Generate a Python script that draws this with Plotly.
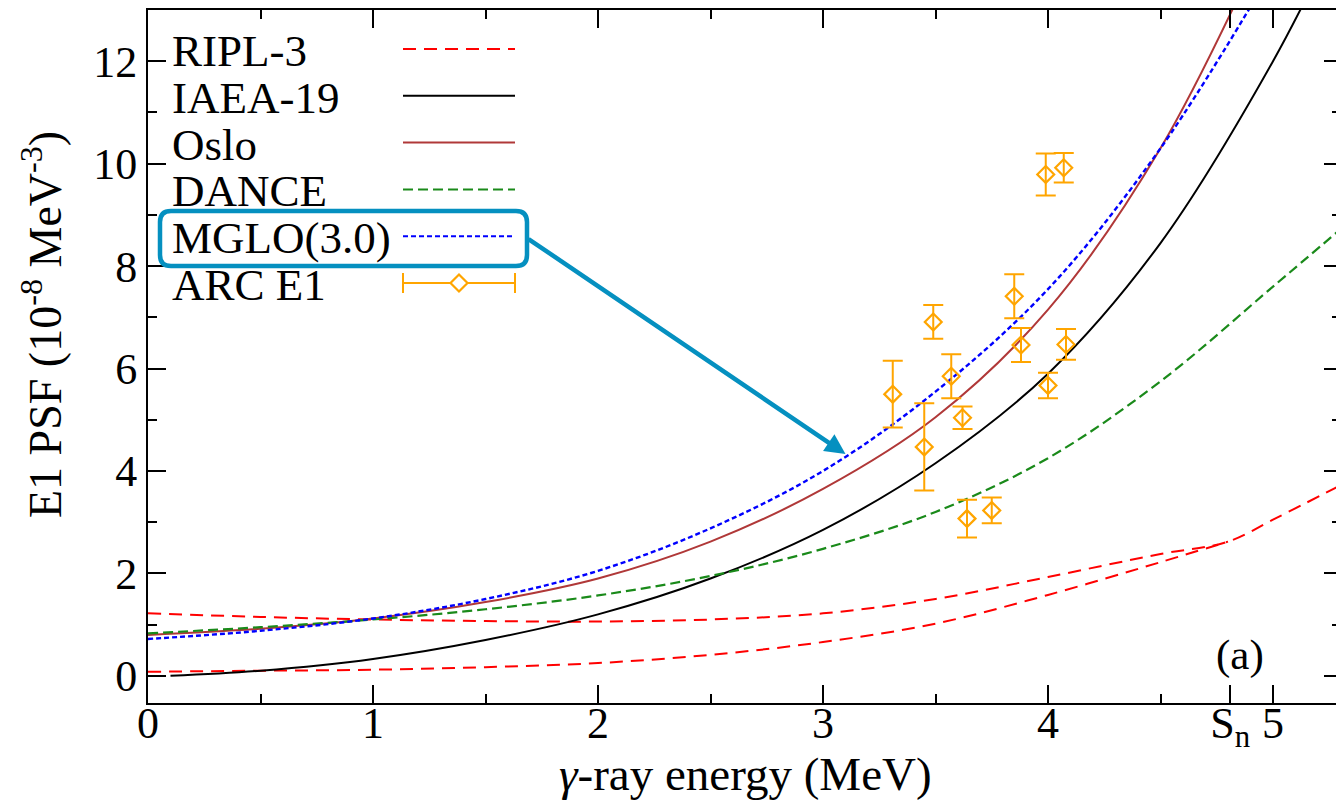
import plotly.graph_objects as go

# ---------------- data ----------------
# RIPL-3 (two branches that join near Sn)
ripl_hi_e = [0.0, 0.5, 1.0, 1.5, 2.0, 2.5, 3.0, 3.5, 4.0, 4.5, 4.8, 5.0, 5.3]
ripl_hi = [1.22, 1.15, 1.10, 1.07, 1.06, 1.10, 1.22, 1.50, 1.93, 2.38, 2.62, 3.05, 3.72]
ripl_lo_e = [0.0, 0.5, 1.0, 1.5, 2.0, 2.5, 3.0, 3.5, 4.0, 4.5, 4.8]
ripl_lo = [0.08, 0.10, 0.12, 0.17, 0.25, 0.41, 0.66, 1.02, 1.58, 2.22, 2.62]

# IAEA-19
iaea_e = [0.1, 0.5, 1.0, 1.5, 2.0, 2.5, 3.0, 3.5, 4.0, 4.5, 5.0, 5.3]
iaea = [0.0, 0.10, 0.33, 0.70, 1.20, 1.90, 2.85, 4.15, 5.90, 8.45, 12.0, 14.6]

# Oslo
oslo_e = [0.0, 0.5, 1.0, 1.5, 2.0, 2.5, 3.0, 3.5, 4.0, 4.5, 5.0]
oslo = [0.80, 0.92, 1.12, 1.44, 1.90, 2.62, 3.65, 5.05, 7.15, 10.3, 14.7]

# DANCE
dance_e = [0.0, 0.5, 1.0, 1.5, 2.0, 2.5, 3.0, 3.5, 4.0, 4.5, 5.0, 5.3]
dance = [0.83, 0.95, 1.10, 1.30, 1.57, 1.95, 2.48, 3.20, 4.25, 5.75, 7.60, 8.72]

# MGLO(3.0)
mglo_e = [0.0, 0.5, 1.0, 1.5, 2.0, 2.5, 3.0, 3.5, 4.0, 4.5, 5.0]
mglo = [0.72, 0.88, 1.12, 1.50, 2.05, 2.88, 4.00, 5.55, 7.55, 10.3, 13.8]

# ARC E1 data points
arc_e = [3.31, 3.45, 3.49, 3.57, 3.62, 3.64, 3.75, 3.85, 3.88, 3.99, 4.00, 4.07, 4.08]
arc_psf = [5.50, 4.47, 6.91, 5.85, 5.04, 3.07, 3.23, 7.41, 6.46, 9.79, 5.67, 9.92, 6.47]
arc_err = [0.65, 0.85, 0.33, 0.43, 0.22, 0.37, 0.25, 0.43, 0.33, 0.41, 0.25, 0.29, 0.30]

# axis ticks
x_major = [0, 1, 2, 3, 4, 4.81, 5]
x_major_text = ["0", "1", "2", "3", "4", "S<sub>n</sub>", "5"]
x_minor = [0.5, 1.5, 2.5, 3.5, 4.5]
y_major = [0, 2, 4, 6, 8, 10, 12]
y_minor = [1, 3, 5, 7, 9, 11]

# ---------------- styling ----------------
W, H = 1336, 802
ML, MR, MT, MB = 148, 0, 10, 99
PW, PH = W - ML - MR, H - MT - MB
X_RANGE = [0, 5.28]
Y_RANGE = [-0.53, 13.0]

SERIF = "Liberation Serif, Times New Roman, serif"
RED = "#ff0000"
BLACK = "#000000"
BROWN = "#b03838"
GREEN = "#1a8a1a"
BLUE = "#0000ff"
ORANGE = "#ffa500"
TEAL = "#0590c0"

DASH_RED = "13px,8px"
DASH_GREEN = "10px,5px"
DASH_BLUE = "5px,3px"


def px_x(p):
    return (p - ML) / PW


def px_y(p):
    return (H - MB - p) / PH


fig = go.Figure()

curve_specs = [
    (ripl_hi_e, ripl_hi, RED, DASH_RED, 2),
    (ripl_lo_e, ripl_lo, RED, DASH_RED, 2),
    (iaea_e, iaea, BLACK, "solid", 2),
    (oslo_e, oslo, BROWN, "solid", 2),
    (dance_e, dance, GREEN, DASH_GREEN, 2.2),
    (mglo_e, mglo, BLUE, DASH_BLUE, 2.4),
]
for xs, ys, color, dash, width in curve_specs:
    fig.add_trace(go.Scatter(
        x=xs, y=ys, mode="lines",
        line=dict(color=color, dash=dash, width=width, shape="spline", smoothing=1.0),
        showlegend=False, hoverinfo="skip",
    ))

fig.add_trace(go.Scatter(
    x=arc_e, y=arc_psf, mode="markers",
    marker=dict(symbol="diamond-open", size=13, color=ORANGE, line=dict(color=ORANGE, width=2.2)),
    error_y=dict(type="data", array=arc_err, visible=True, color=ORANGE, thickness=2, width=10),
    showlegend=False, hoverinfo="skip",
))

# empty trace so the right-hand tick axis is rendered
fig.add_trace(go.Scatter(x=[None], y=[None], yaxis="y2", showlegend=False, hoverinfo="skip"))

# ---------------- legend (text left, sample right) ----------------
legend_rows = ["RIPL-3", "IAEA-19", "Oslo", "DANCE", "MGLO(3.0)", "ARC E1"]
legend_styles = [(RED, DASH_RED), (BLACK, "solid"), (BROWN, "solid"),
                 (GREEN, DASH_GREEN), (BLUE, DASH_BLUE), (ORANGE, "solid")]
row_y0, row_dy = 49, 46.8
text_x, samp_x0, samp_x1 = 170, 403, 515

shapes = []
annotations = []
for i, (label, (color, dash)) in enumerate(zip(legend_rows, legend_styles)):
    yy = row_y0 + i * row_dy
    annotations.append(dict(
        text=label, x=px_x(text_x), y=px_y(yy + 2), xref="paper", yref="paper",
        xanchor="left", yanchor="middle", showarrow=False,
        font=dict(family=SERIF, size=45, color="black"),
    ))
    shapes.append(dict(type="line", xref="paper", yref="paper",
                       x0=px_x(samp_x0), x1=px_x(samp_x1), y0=px_y(yy), y1=px_y(yy),
                       line=dict(color=color, dash=dash, width=2)))
    if label == "ARC E1":
        for cx in (samp_x0, samp_x1):
            shapes.append(dict(type="line", xref="paper", yref="paper",
                               x0=px_x(cx), x1=px_x(cx), y0=px_y(yy - 10), y1=px_y(yy + 10),
                               line=dict(color=color, width=2)))
        cx, r = (samp_x0 + samp_x1) / 2, 8.5
        pts = [(cx, yy - r), (cx + r, yy), (cx, yy + r), (cx - r, yy)]
        path = "M " + " L ".join(f"{px_x(a):.5f},{px_y(b):.5f}" for a, b in pts) + " Z"
        shapes.append(dict(type="path", xref="paper", yref="paper", path=path,
                           fillcolor="white", line=dict(color=color, width=2.2)))

# rounded highlight box around the MGLO entry
bx0, bx1, by0, by1, rad = 160, 527, 211, 266, 11
box_pts = [
    ("M", bx0 + rad, by0), ("L", bx1 - rad, by0), ("Q", bx1, by0, bx1, by0 + rad),
    ("L", bx1, by1 - rad), ("Q", bx1, by1, bx1 - rad, by1),
    ("L", bx0 + rad, by1), ("Q", bx0, by1, bx0, by1 - rad),
    ("L", bx0, by0 + rad), ("Q", bx0, by0, bx0 + rad, by0),
]
path = ""
for seg in box_pts:
    cmd, coords = seg[0], seg[1:]
    pairs = [f"{px_x(coords[k]):.5f},{px_y(coords[k + 1]):.5f}" for k in range(0, len(coords), 2)]
    path += f"{cmd} " + " ".join(pairs) + " "
shapes.append(dict(type="path", xref="paper", yref="paper", path=path + "Z",
                   line=dict(color=TEAL, width=4.5)))

# arrow from the box to the MGLO curve
annotations.append(dict(
    x=3.10, y=4.33, xref="x", yref="y",
    ax=(527 - ML) / 225.0, ay=Y_RANGE[1] - (238 - MT) / (PH / (Y_RANGE[1] - Y_RANGE[0])),
    axref="x", ayref="y", text="", showarrow=True,
    arrowhead=2, arrowsize=0.9, arrowwidth=4.5, arrowcolor=TEAL,
))

# panel tag
annotations.append(dict(text="(a)", x=4.855, y=0.41, xref="x", yref="y", showarrow=False,
                        font=dict(family=SERIF, size=43, color="black")))

# axis titles
annotations.append(dict(
    text="E1 PSF (10<sup>-8</sup> MeV<sup>-3</sup>)", textangle=-90,
    x=px_x(42), y=px_y(325), xref="paper", yref="paper",
    xanchor="center", yanchor="middle", showarrow=False,
    font=dict(family=SERIF, size=46, color="black"),
))
annotations.append(dict(
    text="<i>γ</i>-ray energy (MeV)",
    x=px_x(745), y=px_y(774), xref="paper", yref="paper",
    xanchor="center", yanchor="middle", showarrow=False,
    font=dict(family=SERIF, size=47, color="black"),
))

tickfont = dict(family=SERIF, size=44, color="black")
fig.update_layout(
    width=W, height=H,
    margin=dict(l=ML, r=MR, t=MT, b=MB, pad=0),
    paper_bgcolor="white", plot_bgcolor="white",
    shapes=shapes, annotations=annotations,
    xaxis=dict(
        range=X_RANGE, showgrid=False, zeroline=False,
        showline=True, linecolor="black", linewidth=2, mirror="ticks",
        ticks="inside", ticklen=18, tickwidth=2, tickcolor="black",
        tickmode="array", tickvals=x_major, ticktext=x_major_text, tickangle=0,
        minor=dict(tickmode="array", tickvals=x_minor, ticks="inside", ticklen=9,
                   tickwidth=2, tickcolor="black", showgrid=False),
        tickfont=tickfont, ticklabelstandoff=-20,
    ),
    yaxis=dict(
        range=Y_RANGE, showgrid=False, zeroline=False,
        showline=True, linecolor="black", linewidth=2,
        ticks="inside", ticklen=18, tickwidth=2, tickcolor="black",
        tickmode="array", tickvals=y_major,
        minor=dict(tickmode="array", tickvals=y_minor, ticks="inside", ticklen=9,
                   tickwidth=2, tickcolor="black", showgrid=False),
        tickfont=tickfont,
    ),
    yaxis2=dict(
        range=Y_RANGE, overlaying="y", side="right", anchor="x",
        showgrid=False, zeroline=False, showline=False, showticklabels=False,
        ticks="inside", ticklen=12, tickwidth=2, tickcolor="black",
        tickmode="array", tickvals=y_major,
        minor=dict(tickmode="array", tickvals=y_minor, ticks="inside", ticklen=4,
                   tickwidth=2, tickcolor="black", showgrid=False),
    ),
)

fig.write_html("out.html")
